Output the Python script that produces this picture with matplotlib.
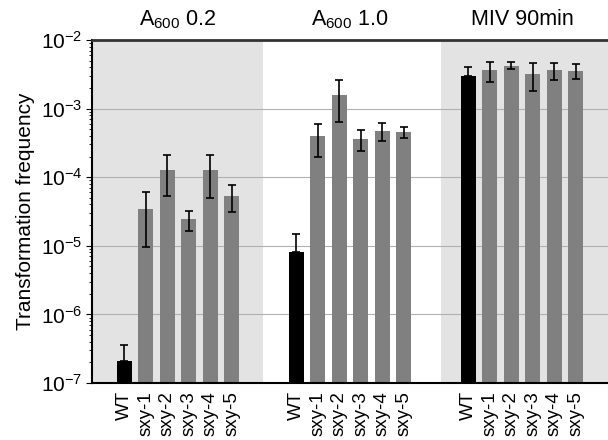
import numpy as np
import matplotlib.pyplot as plt

plt.rcParams['font.family'] = ['Liberation Sans', 'DejaVu Sans']
plt.rcParams['mathtext.fontset'] = 'custom'
plt.rcParams['mathtext.rm'] = 'Liberation Sans'
plt.rcParams['mathtext.it'] = 'Liberation Sans:italic'
plt.rcParams['mathtext.bf'] = 'Liberation Sans:bold'

# strain names and condition panels
strains = ['WT', 'sxy-1', 'sxy-2', 'sxy-3', 'sxy-4', 'sxy-5']
conditions = ['A$_{600}$ 0.2', 'A$_{600}$ 1.0', 'MIV 90min']

# transformation frequency (bar height) per condition
freq_a02 = [2.1e-7, 3.4e-5, 1.27e-4, 2.45e-5, 1.27e-4, 5.3e-5]
freq_a10 = [8.2e-6, 4.0e-4, 1.6e-3, 3.65e-4, 4.75e-4, 4.55e-4]
freq_miv = [2.95e-3, 3.6e-3, 4.2e-3, 3.2e-3, 3.6e-3, 3.5e-3]

# error bar ends (lower, upper); WT lower end hidden inside bar
err_lo_a02 = [2.1e-7, 9.5e-6, 5.3e-5, 1.66e-5, 4.9e-5, 3.1e-5]
err_hi_a02 = [3.6e-7, 6.0e-5, 2.08e-4, 3.25e-5, 2.1e-4, 7.7e-5]
err_lo_a10 = [8.2e-6, 1.97e-4, 6.45e-4, 2.41e-4, 3.37e-4, 3.77e-4]
err_hi_a10 = [1.5e-5, 6.0e-4, 2.64e-3, 4.93e-4, 6.23e-4, 5.39e-4]
err_lo_miv = [2.95e-3, 2.47e-3, 3.74e-3, 1.81e-3, 2.61e-3, 2.7e-3]
err_hi_miv = [4.04e-3, 4.83e-3, 4.73e-3, 4.62e-3, 4.67e-3, 4.42e-3]

freqs = [freq_a02, freq_a10, freq_miv]
lows = [err_lo_a02, err_lo_a10, err_lo_miv]
highs = [err_hi_a02, err_hi_a10, err_hi_miv]

fig = plt.figure(figsize=(6.08, 4.4), dpi=100)
ax = fig.add_axes([92 / 608, 1 - 383 / 440, 1 - 92 / 608, (383 - 40) / 440])

colors = ['black'] + ['#808080'] * 5
bar_w = 0.72
ax.axvspan(-1.5, 6.45, color='#e3e3e3', zorder=0, lw=0)
ax.axvspan(14.75, 22.5, color='#e3e3e3', zorder=0, lw=0)

tick_pos = []
tick_lab = []
for g in range(3):
    x = np.arange(6) + 8 * g
    vals = np.array(freqs[g])
    lo = np.array(lows[g])
    hi = np.array(highs[g])
    ax.bar(x, vals, width=bar_w, color=colors, zorder=2)
    yerr = np.vstack([vals - lo, hi - vals])
    ax.errorbar(x, vals, yerr=yerr, fmt='none', ecolor='black', elinewidth=1.2,
                capsize=3, capthick=1.2, zorder=3)
    ax.text(x.mean(), 1.06, conditions[g], transform=ax.get_xaxis_transform(),
            ha='center', va='center', fontsize=15.5)
    tick_pos += list(x)
    tick_lab += strains

ax.set_yscale('log')
ax.set_ylim(1e-7, 1e-2)
ax.set_xlim(-1.5, 22.5)
ax.yaxis.grid(True, which='major', color='#b0b0b0', lw=0.8, zorder=1)
ax.set_axisbelow(True)
ax.set_xticks(tick_pos)
ax.set_xticklabels(tick_lab, rotation=90, fontsize=13.5)
ax.tick_params(axis='x', length=0, pad=6)
ax.tick_params(axis='y', which='major', labelsize=15, length=4, direction='out', pad=3)
ax.tick_params(axis='y', which='minor', length=2.5, direction='out')
ax.set_ylabel('Transformation frequency', fontsize=15, labelpad=4)

ax.spines['right'].set_visible(False)
ax.spines['top'].set_color('#333333')
ax.spines['top'].set_linewidth(2)
ax.spines['left'].set_linewidth(1.5)
ax.spines['bottom'].set_linewidth(1.5)

fig.savefig('out.png', dpi=100)
